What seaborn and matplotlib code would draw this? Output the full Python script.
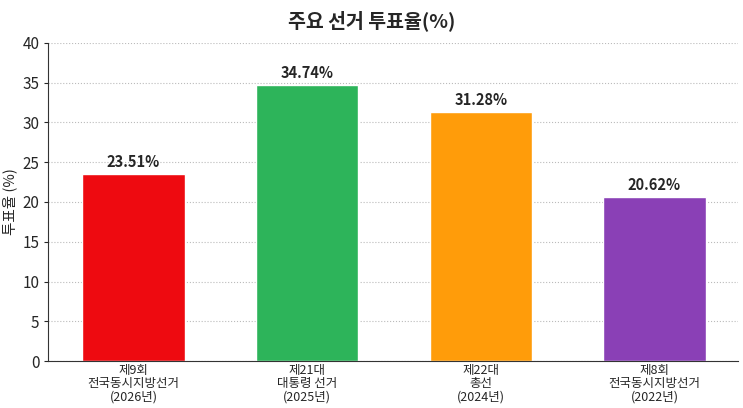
import matplotlib
matplotlib.use("Agg")
import matplotlib.pyplot as plt
import seaborn as sns
import pandas as pd

categories = ["제9회\n전국동시지방선거\n(2026년)", "제21대\n대통령 선거\n(2025년)",
              "제22대\n총선\n(2024년)", "제8회\n전국동시지방선거\n(2022년)"]
turnout = [23.51, 34.74, 31.28, 20.62]
colors = ["#EE0A10", "#2DB45A", "#FF9C0A", "#8A40B6"]

sns.set_style("white")
plt.rcParams['font.family'] = ['Noto Sans CJK KR', 'DejaVu Sans']

df = pd.DataFrame({"선거": categories, "투표율": turnout})

fig = plt.figure(figsize=(7.43, 4.08), dpi=100)
ax = fig.add_axes([0.065, 0.115, 0.928, 0.78])
sns.barplot(data=df, x="선거", y="투표율", hue="선거", palette=colors,
            width=0.59, saturation=1, legend=False, ax=ax)

for i, v in enumerate(turnout):
    ax.text(i, v + 0.5, f"{v:.2f}%", ha="center", va="bottom", fontsize=10.5, fontweight="bold")

ax.set_ylim(0, 40)
ax.set_xlim(-0.49, 3.48)
ax.set_yticks(range(0, 41, 5))
ax.yaxis.grid(True, linestyle=":", color="#bbbbbb", linewidth=0.8)
ax.set_axisbelow(True)
sns.despine(ax=ax)
ax.spines["left"].set_color("#333333")
ax.spines["bottom"].set_color("#333333")
ax.tick_params(axis="y", labelsize=11, length=3, left=True)
ax.tick_params(axis="x", labelsize=9, length=0, pad=2)
for lbl in ax.get_xticklabels():
    lbl.set_linespacing(1.05)
ax.set_xlabel("")
ax.set_ylabel("투표율 (%)", fontsize=10.5)
fig.suptitle("주요 선거 투표율(%)", fontsize=14, fontweight="bold", y=0.975)

fig.savefig("out.png", dpi=100)
